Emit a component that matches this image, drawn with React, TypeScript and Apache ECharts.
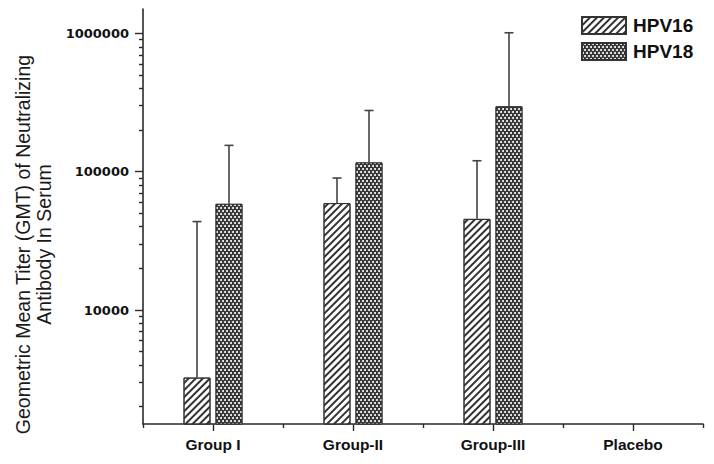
import React, { useEffect, useRef } from "react";
import * as echarts from "echarts";

const categories = ["Group I", "Group-II", "Group-III", "Placebo"];
const seriesNames = ["HPV16", "HPV18"];
const hpv16Gmt: (number | null)[] = [3250, 59300, 45600, null];
const hpv16Upper: (number | null)[] = [43600, 90000, 120000, null];
const hpv18Gmt: (number | null)[] = [58600, 116700, 297000, null];
const hpv18Upper: (number | null)[] = [155000, 277000, 1010000, null];
const yMin = 1500;
const yMax = 1500000;
const yMajorTicks = [10000, 100000, 1000000];
const yMinorTicks = [
  2000, 3000, 4000, 5000, 6000, 7000, 8000, 9000,
  20000, 30000, 40000, 50000, 60000, 70000, 80000, 90000,
  200000, 300000, 400000, 500000, 600000, 700000, 800000, 900000,
];
const yTitle = "Geometric Mean Titer (GMT) of Neutralizing\nAntibody In Serum";

const BAR_WIDTH = 27;
const BAR_GAP_PCT = 18.5;
const FONT = "'Liberation Sans', Arial, sans-serif";
const AXIS_COLOR = "#2a2a2a";
const ERR_COLOR = "#444";

export default function App() {
  const ref = useRef<HTMLDivElement>(null);
  useEffect(() => {
    if (!ref.current) return;
    const chart = echarts.init(ref.current, null, { renderer: "svg" });
    const gapPx = (BAR_WIDTH * BAR_GAP_PCT) / 100;
    const offset = (BAR_WIDTH + gapPx) / 2;

    const errData = (vals: (number | null)[], ups: (number | null)[]) =>
      vals
        .map((v, i) => (v == null || ups[i] == null ? null : [i, v, ups[i]]))
        .filter((d) => d != null);

    const errSeries = (name: string, vals: (number | null)[], ups: (number | null)[], sign: number) => ({
      type: "custom",
      name: name + " err",
      xAxisIndex: 0,
      yAxisIndex: 0,
      z: 5,
      silent: true,
      data: errData(vals, ups),
      renderItem: (params: any, api: any) => {
        const idx = api.value(0);
        const lo = api.coord([idx, api.value(1)]);
        const hi = api.coord([idx, api.value(2)]);
        const x = lo[0] + sign * offset;
        const style = { stroke: ERR_COLOR, lineWidth: 1.6 };
        return {
          type: "group",
          children: [
            { type: "line", shape: { x1: x, y1: lo[1], x2: x, y2: hi[1] }, style },
            { type: "line", shape: { x1: x - 4.5, y1: hi[1], x2: x + 4.5, y2: hi[1] }, style },
          ],
        };
      },
    });

    const option: any = {
      animation: false,
      backgroundColor: "#fff",
      grid: { left: 143, right: 11, top: 9, bottom: 40, containLabel: false, outerBoundsMode: "none" },
      legend: {
        data: seriesNames,
        orient: "vertical",
        left: 581,
        top: 16,
        padding: 0,
        itemWidth: 44,
        itemHeight: 17,
        itemGap: 7,
        icon: "rect",
        textStyle: { fontFamily: FONT, fontSize: 19, fontWeight: "bold", color: "#111", padding: [0, 0, 0, 2] },
      },
      xAxis: [
        {
          type: "category",
          position: "bottom",
          data: categories,
          axisLine: { show: true, lineStyle: { color: AXIS_COLOR, width: 1.6 } },
          axisTick: { show: true, alignWithLabel: true, length: 7, lineStyle: { color: AXIS_COLOR, width: 1.4 } },
          axisLabel: { fontFamily: FONT, fontSize: 15.5, fontWeight: "bold", color: "#111", margin: 12 },
          splitLine: { show: false },
        },
        {
          type: "category",
          position: "bottom",
          data: categories,
          axisLine: { show: false },
          axisTick: { show: true, alignWithLabel: false, length: 4, lineStyle: { color: AXIS_COLOR, width: 1.4 } },
          axisLabel: { show: false },
          splitLine: { show: false },
        },
      ],
      yAxis: [
        {
          type: "log",
          logBase: 10,
          position: "left",
          min: yMin,
          max: yMax,
          name: yTitle,
          nameLocation: "middle",
          nameGap: 88,
          nameTextStyle: {
            fontFamily: FONT,
            fontSize: 19.5,
            color: "#1a1a1a",
            lineHeight: 21,
            padding: [0, 56, 0, 0],
          },
          axisLine: { show: true, lineStyle: { color: AXIS_COLOR, width: 1.6 } },
          axisTick: { show: true, length: 8, customValues: yMajorTicks, lineStyle: { color: AXIS_COLOR, width: 1.4 } },
          axisLabel: {
            customValues: yMajorTicks,
            fontFamily: "'DejaVu Sans', sans-serif",
            fontSize: 13,
            fontWeight: "bold",
            color: "#111",
            margin: 14,
            formatter: (v: number) => String(Math.round(v)),
          },
          splitLine: { show: false },
        },
        {
          type: "log",
          logBase: 10,
          position: "left",
          min: yMin,
          max: yMax,
          axisLine: { show: false },
          axisTick: { show: true, length: 4, customValues: yMinorTicks, lineStyle: { color: AXIS_COLOR, width: 1.4 } },
          axisLabel: { show: false },
          splitLine: { show: false },
        },
      ],
      series: [
        {
          type: "bar",
          name: seriesNames[0],
          xAxisIndex: 0,
          yAxisIndex: 0,
          data: hpv16Gmt,
          barWidth: BAR_WIDTH,
          barGap: BAR_GAP_PCT + "%",
          itemStyle: {
            color: "#fff",
            borderColor: "#333",
            borderWidth: 1,
            decal: {
              symbol: "rect",
              symbolSize: 1,
              color: "#333",
              backgroundColor: "#fff",
              dashArrayX: [1, 0],
              dashArrayY: [1.2, 2.6],
              rotation: -Math.PI / 4,
            },
          },
        },
        {
          type: "bar",
          name: seriesNames[1],
          xAxisIndex: 0,
          yAxisIndex: 0,
          data: hpv18Gmt,
          barWidth: BAR_WIDTH,
          barGap: BAR_GAP_PCT + "%",
          itemStyle: {
            color: "#333",
            borderColor: "#333",
            borderWidth: 1,
            decal: {
              symbol: "circle",
              symbolSize: 1,
              color: "#fff",
              backgroundColor: "#2e2e2e",
              dashArrayX: [[2, 2], [0, 2, 2, 0]],
              dashArrayY: [2, 0.0001],
            },
          },
        },
        errSeries(seriesNames[0], hpv16Gmt, hpv16Upper, -1),
        errSeries(seriesNames[1], hpv18Gmt, hpv18Upper, 1),
      ],
    };
    chart.setOption(option);
    return () => chart.dispose();
  }, []);
  return (
    <div
      ref={ref}
      style={{ position: "absolute", left: 0, top: 0, width: 714, height: 464 }}
    />
  );
}
